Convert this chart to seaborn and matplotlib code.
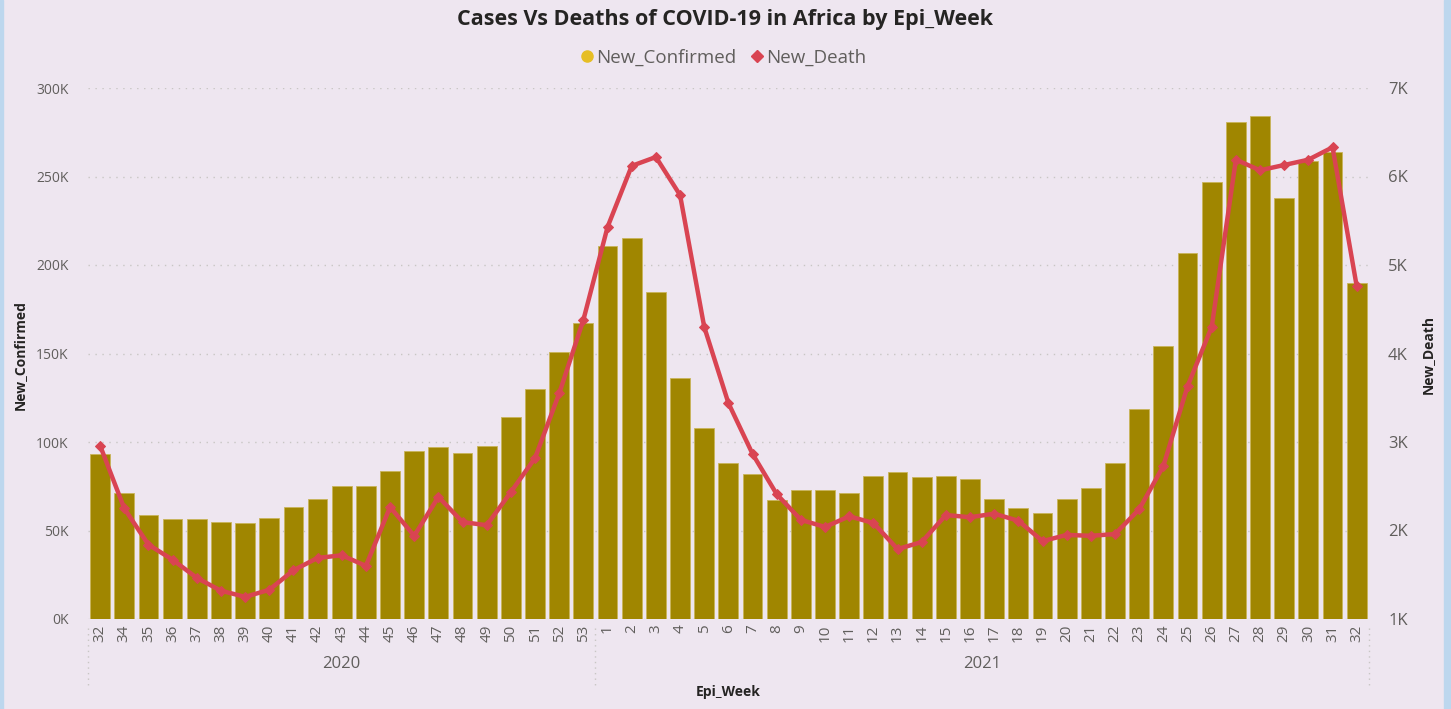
import matplotlib
matplotlib.use("Agg")
import matplotlib.pyplot as plt
import matplotlib.transforms as mtransforms
from matplotlib.lines import Line2D
from matplotlib.patches import Rectangle
import seaborn as sns
import pandas as pd
import numpy as np

# Data
years = [2020] * 21 + [2021] * 32
weeks = [32, 34, 35, 36, 37, 38, 39, 40, 41, 42, 43, 44, 45, 46, 47, 48, 49, 50, 51, 52, 53] + list(range(1, 33))
new_confirmed = [93000, 71000, 59000, 56500, 56500, 55000, 54000, 57000, 63000, 68000,
                 75000, 75000, 83500, 95000, 97000, 94000, 98000, 114000, 130000, 151000, 167000,
                 211000, 215000, 185000, 136000, 108000, 88000, 82000, 67000, 73000, 73000,
                 71000, 81000, 83000, 80000, 81000, 79000, 68000, 62500, 60000, 68000,
                 74000, 88000, 118500, 154000, 207000, 247000, 281000, 284000, 238000, 259000,
                 264000, 190000]
new_death = [2960, 2250, 1840, 1670, 1465, 1320, 1250, 1330, 1550, 1690,
             1720, 1600, 2265, 1940, 2380, 2095, 2060, 2435, 2820, 3550, 4380,
             5430, 6120, 6220, 5790, 4300, 3440, 2865, 2410, 2120, 2040,
             2160, 2085, 1790, 1870, 2175, 2150, 2190, 2110, 1880, 1950,
             1940, 1960, 2240, 2730, 3630, 4300, 6190, 6070, 6130, 6190,
             6330, 4760]

df = pd.DataFrame({"year": years, "week": weeks,
                   "New_Confirmed": new_confirmed, "New_Death": new_death})
df["key"] = df["year"].astype(str) + "-" + df["week"].astype(str)
df["pos"] = np.arange(len(df))

bg = "#EEE6F0"
bar_color = "#A08600"
line_color = "#D94452"
tick_color = "#605E5C"

sns.set_style("white")
plt.rcParams["font.family"] = ["Open Sans", "DejaVu Sans"]

fig = plt.figure(figsize=(14.51, 7.09), dpi=100, facecolor=bg)
W, H = 1451, 709
ax = fig.add_axes([88 / W, 1 - 619 / H, (1370 - 88) / W, (619 - 88) / H])
ax.set_facecolor(bg)

# Bars
sns.barplot(data=df, x="key", y="New_Confirmed", order=df["key"], color=bar_color,
            width=0.82, edgecolor="#C9B45A", linewidth=0.6, saturation=1, ax=ax)
ax.set_xlim(-0.5, len(df) - 0.45)
ax.set_ylim(0, 300000)
ax.set_yticks(np.arange(0, 300001, 50000))
ax.set_yticklabels([f"{int(v / 1000)}K" for v in ax.get_yticks()])
ax.set_xticks(df["pos"])
ax.set_xticklabels(df["week"], rotation=90)
ax.tick_params(axis="x", labelsize=11, colors=tick_color, length=0, pad=4)
ax.tick_params(axis="y", labelsize=10, colors=tick_color, length=0, pad=14)
ax.set_xlabel("")
ax.set_ylabel("")
for v in ax.get_yticks():
    ax.axhline(v, color="#C8C6C4", linestyle=(0, (1, 4)), linewidth=1, zorder=0)
for s in ax.spines.values():
    s.set_visible(False)

# Line on the secondary axis
ax2 = ax.twinx()
sns.lineplot(data=df, x="pos", y="New_Death", color=line_color, linewidth=3.2,
             marker="D", markersize=5, markeredgecolor=line_color, ax=ax2)
ax2.set_ylim(1000, 7000)
ax2.set_yticks(np.arange(1000, 7001, 1000))
ax2.set_yticklabels([f"{int(v / 1000)}K" for v in ax2.get_yticks()])
ax2.tick_params(axis="y", labelsize=12, colors=tick_color, length=0, pad=13)
ax2.set_ylabel("")
ax2.set_xlabel("")
for s in ax2.spines.values():
    s.set_visible(False)
ax.set_xlim(-0.5, len(df) - 0.45)

# Year group labels and separators
blend = mtransforms.blended_transform_factory(ax.transData, fig.transFigure)
for yr in [2020, 2021]:
    p = df.loc[df["year"] == yr, "pos"]
    ax.text((p.min() + p.max()) / 2, 1 - 664 / H, str(yr), transform=blend,
            ha="center", va="center", fontsize=12, color=tick_color)
n2020 = (df["year"] == 2020).sum()
for xs in [-0.5, n2020 - 0.5, len(df) - 0.5]:
    fig.add_artist(Line2D([xs, xs], [1 - 628 / H, 1 - 686 / H], transform=blend,
                          color="#C8C6C4", linestyle=(0, (1, 3)), linewidth=1))

# Axis titles
fig.text(728 / W, 1 - 692 / H, "Epi_Week", ha="center", va="center",
         fontsize=10, fontweight="bold", color="#252423")
fig.text(20 / W, 1 - 355 / H, "New_Confirmed", ha="center", va="center",
         rotation=90, fontsize=10, fontweight="bold", color="#252423")
fig.text(1428 / W, 1 - 355 / H, "New_Death", ha="center", va="center",
         rotation=90, fontsize=10, fontweight="bold", color="#252423")

# Title
fig.text(725 / W, 1 - 19 / H, "Cases Vs Deaths of COVID-19 in Africa by Epi_Week",
         ha="center", va="center", fontsize=15.5, fontweight="bold", color="#252423")

# Legend
handles = [Line2D([], [], marker="o", linestyle="", color="#E6BE24", markersize=8),
           Line2D([], [], marker="D", linestyle="", color=line_color, markersize=6)]
fig.legend(handles, ["New_Confirmed", "New_Death"], loc="center",
           bbox_to_anchor=(722 / W, 1 - 58 / H), ncol=2, frameon=False,
           fontsize=13.5, handletextpad=0.0, columnspacing=0.6,
           labelcolor=tick_color, handlelength=1.0)

# Frame strips
fig.add_artist(Rectangle((1444 / W, 0), 7 / W, 1, transform=fig.transFigure,
                         color="#BDD7EE", zorder=-1))
fig.add_artist(Rectangle((0, 0), 3 / W, 1, transform=fig.transFigure,
                         color="#BDD7EE", zorder=-1))

fig.savefig("out.png", dpi=100, facecolor=bg)
